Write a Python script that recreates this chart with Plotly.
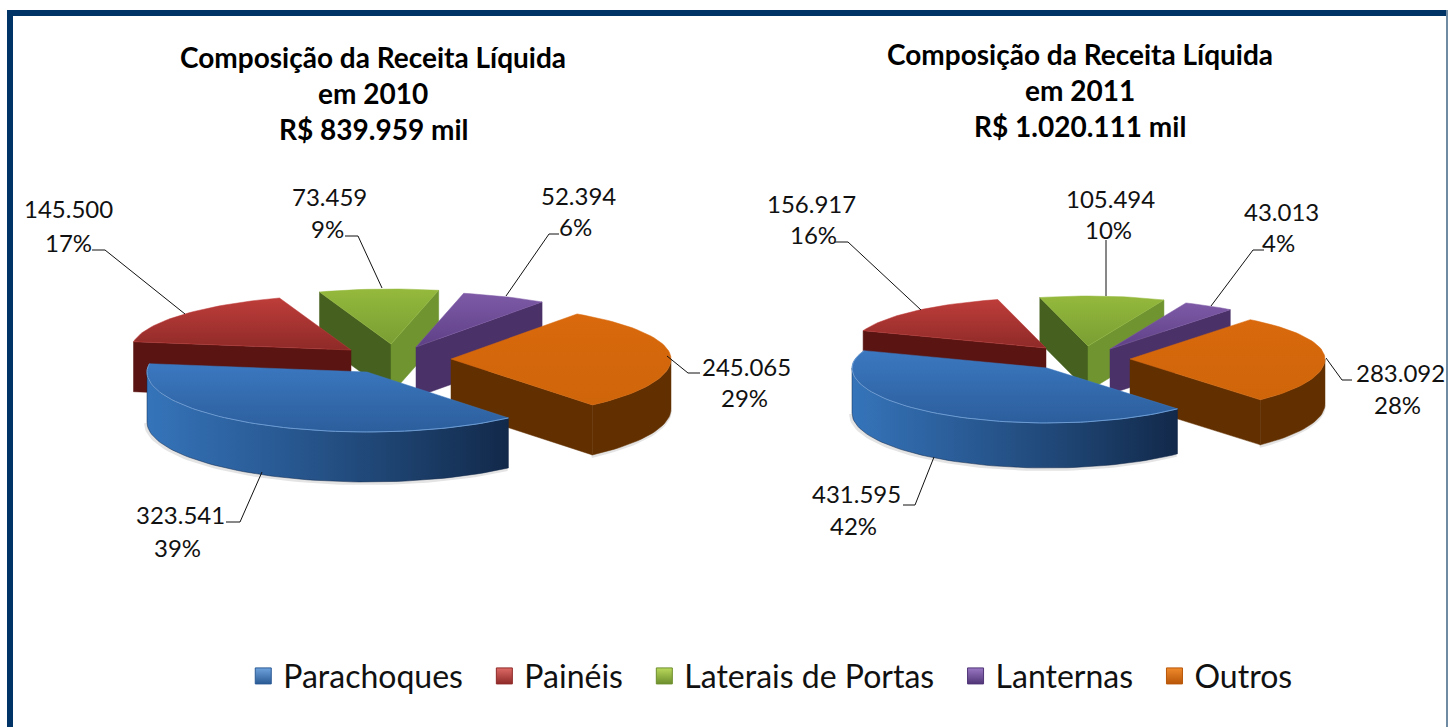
import math
import plotly.graph_objects as go

# ---------- data ----------
categories = ["Parachoques", "Painéis", "Laterais de Portas", "Lanternas", "Outros"]
values_2010 = [323541, 145500, 73459, 52394, 245065]
values_2011 = [431595, 156917, 105494, 43013, 283092]
percent_2010 = [39, 17, 9, 6, 29]
percent_2011 = [42, 16, 10, 4, 28]
title_2010 = ["Composição da Receita Líquida", "em 2010", "R$ 839.959 mil"]
title_2011 = ["Composição da Receita Líquida", "em 2011", "R$ 1.020.111 mil"]

# ---------- geometry and style (pixels of the 1448x727 page) ----------
FONT = "Lato"
NAVY = "#003366"
PIE_2010 = dict(rx=220, ry=60, ry_back=55, depth=50, start=50,
                apex=[(367, 372), (351, 350), (391, 344), (416, 347), (451, 359)])
PIE_2011 = dict(rx=195, ry=55, ry_back=50, depth=45, start=48,
                apex=[(1047, 368), (1046, 348), (1088, 346), (1110, 349), (1130, 359)])
DRAW_ORDER = [2, 3, 1, 4, 0]
# "top" gradients run from the far edge of a slice to the near edge
STYLE = [
    dict(top=["#3B78C0", "#2C5E9C"], w1="#1C3A63", w2="#1C3A63",
         arc=["#3574BA", "#2A5C97", "#1E4472", "#12294A"], rim="#6C9BD2",
         legend=["#6FA3DE", "#2A5A94"]),
    dict(top=["#BE3D3A", "#8E2A28"], w1="#5A1513", w2="#5A1513",
         arc=["#5A1513", "#5A1513"], rim=None, legend=["#DE6A66", "#8E2A28"]),
    dict(top=["#94B93C", "#7A9E33"], w1="#45601F", w2="#6F9430",
         arc=["#6F9430", "#6F9430"], rim=None, legend=["#BAD95C", "#6C8E2C"]),
    dict(top=["#7E5AA6", "#5E4087"], w1="#4A3168", w2="#4A3168",
         arc=["#4A3168", "#4A3168"], rim=None, legend=["#9B78C4", "#4F3576"]),
    dict(top=["#D9690C", "#CF650A"], w1="#623000", w2="#623000",
         arc=["#623000", "#623000"], rim=None, legend=["#F08A2C", "#B85608"]),
]
LABELS_2010 = [((180, 514), (177, 547)), ((68, 208), (68, 242)), ((329, 196), (327, 228)),
               ((578, 195), (575, 226)), ((746, 366), (744, 397))]
LABELS_2011 = [((856, 493), (853, 525)), ((811, 203), (813, 234)), ((1110, 198), (1108, 229)),
               ((1281, 211), (1278, 242)), ((1400, 372), (1397, 404))]
LEADERS_2010 = [[(262, 472), (240, 522), (226, 522)], [(92, 250), (105, 250), (185, 314)],
                [(345, 236), (358, 236), (382, 288)], [(559, 234), (549, 234), (506, 296)],
                [(667, 356), (688, 373), (700, 373)]]
LEADERS_2011 = [[(934, 457), (915, 505), (903, 505)], [(835, 242), (848, 242), (921, 310)],
                [(1106, 240), (1106, 296)], [(1264, 250), (1253, 250), (1211, 306)],
                [(1326, 358), (1342, 380), (1352, 380)]]

fig = go.Figure()


def scale(colors):
    n = len(colors) - 1
    return [[i / n, c] for i, c in enumerate(colors)]


def polygon(points, color=None, gradient=None, direction="vertical"):
    xs = [p[0] for p in points] + [points[0][0]]
    ys = [p[1] for p in points] + [points[0][1]]
    trace = dict(x=xs, y=ys, mode="lines", fill="toself", showlegend=False, hoverinfo="skip")
    if gradient:
        trace["fillgradient"] = dict(type=direction, colorscale=scale(gradient))
        trace["line"] = dict(width=0.5, color=gradient[-1])
    else:
        trace["fillcolor"] = color
        trace["line"] = dict(width=0.5, color=color)
    fig.add_trace(go.Scatter(**trace))


def draw_pie(values, cfg):
    total = sum(values)
    rx, depth = cfg["rx"], cfg["depth"]
    spans, angle = [], cfg["start"]
    for v in values:
        sweep = 360 * v / total
        spans.append((angle, angle + sweep))
        angle += sweep

    def rim(i, a, drop=0):
        ax, ay = cfg["apex"][i]
        t = math.radians(a)
        ry = cfg["ry"] if math.sin(t) >= 0 else cfg["ry_back"]
        return (ax + rx * math.cos(t), ay + ry * math.sin(t) + drop)

    def arc(i, a, b, drop=0):
        n = max(2, int(abs(b - a) / 2))
        return [rim(i, a + (b - a) * k / n, drop) for k in range(n + 1)]

    for i in DRAW_ORDER:
        t1, t2 = spans[i]
        st = STYLE[i]
        ax, ay = cfg["apex"][i]
        # soft shadow plus outer wall
        for k in (0, 1):
            lo, hi = max(t1, 360 * k), min(t2, 180 + 360 * k)
            if lo < hi:
                low = arc(i, lo, hi, depth)
                fig.add_trace(go.Scatter(
                    x=[p[0] - 1 for p in low], y=[p[1] + 1 for p in low], mode="lines",
                    line=dict(color="rgba(130,130,130,0.22)", width=4),
                    showlegend=False, hoverinfo="skip"))
                polygon(arc(i, lo, hi) + arc(i, hi, lo, depth), gradient=st["arc"],
                        direction="horizontal")
        # cut walls, visible only when they face the viewer
        if math.cos(math.radians(t1)) < 0:
            p = rim(i, t1)
            polygon([(ax, ay), p, (p[0], p[1] + depth), (ax, ay + depth)], color=st["w1"])
        if math.cos(math.radians(t2)) > 0:
            p = rim(i, t2)
            polygon([(ax, ay), p, (p[0], p[1] + depth), (ax, ay + depth)], color=st["w2"])
        # top face; the y axis is reversed, so the gradient list is too
        polygon([(ax, ay)] + arc(i, t1, t2), gradient=st["top"][::-1], direction="vertical")
        if st["rim"]:
            edge = arc(i, t1, t2)
            fig.add_trace(go.Scatter(
                x=[p[0] for p in edge], y=[p[1] for p in edge], mode="lines",
                line=dict(color=st["rim"], width=1), showlegend=False, hoverinfo="skip"))


def draw_labels(values, percents, labels, leaders):
    for v, pct, (p1, p2), lead in zip(values, percents, labels, leaders):
        fig.add_trace(go.Scatter(x=[p[0] for p in lead], y=[p[1] for p in lead], mode="lines",
                                 line=dict(color="#111111", width=1),
                                 showlegend=False, hoverinfo="skip"))
        fig.add_annotation(x=p1[0], y=p1[1], text=f"{v:,}".replace(",", "."), showarrow=False,
                           font=dict(family=FONT, size=24, color="#111111"))
        fig.add_annotation(x=p2[0], y=p2[1], text=f"{pct}%", showarrow=False,
                           font=dict(family=FONT, size=24, color="#111111"))


def draw_title(lines, cx, ys):
    for line, y in zip(lines, ys):
        fig.add_annotation(x=cx, y=y, text=f"<b>{line}</b>", showarrow=False,
                           font=dict(family=FONT, size=28, color="#000000"))


draw_pie(values_2010, PIE_2010)
draw_pie(values_2011, PIE_2011)
draw_labels(values_2010, percent_2010, LABELS_2010, LEADERS_2010)
draw_labels(values_2011, percent_2011, LABELS_2011, LEADERS_2011)
draw_title(title_2010, 373, (57, 93, 129))
draw_title(title_2011, 1080, (54, 90, 126))

for name, st in zip(categories, STYLE):
    fig.add_trace(go.Scatter(
        x=[None], y=[None], mode="markers", name=name + "\u00a0\u00a0",
        marker=dict(symbol="square", size=20, color=st["legend"][0],
                    gradient=dict(type="vertical", color=st["legend"][1]),
                    line=dict(color=st["legend"][1], width=1))))

for x0, y0, x1, y1, col in [(7, 10, 13, 727, NAVY), (7, 10, 1448, 16, NAVY),
                            (1446, 10, 1448, 727, "#6F8AA3")]:
    fig.add_shape(type="rect", x0=x0, y0=y0, x1=x1, y1=y1, fillcolor=col,
                  line=dict(width=0), layer="below")

fig.update_layout(
    width=1448, height=727, margin=dict(l=0, r=0, t=0, b=0),
    paper_bgcolor="white", plot_bgcolor="white",
    xaxis=dict(range=[0, 1448], visible=False, fixedrange=True),
    yaxis=dict(range=[727, 0], visible=False, fixedrange=True),
    font=dict(family=FONT),
    legend=dict(orientation="h", x=0.168, xanchor="left", y=0.07, yanchor="middle",
                font=dict(family=FONT, size=32, color="#111111"),
                bgcolor="rgba(0,0,0,0)", itemwidth=30, itemclick=False, itemdoubleclick=False),
)

fig.write_html("out.html", config=dict(displayModeBar=False),
               post_script="document.body.style.margin='0';document.body.style.overflow='hidden';")
